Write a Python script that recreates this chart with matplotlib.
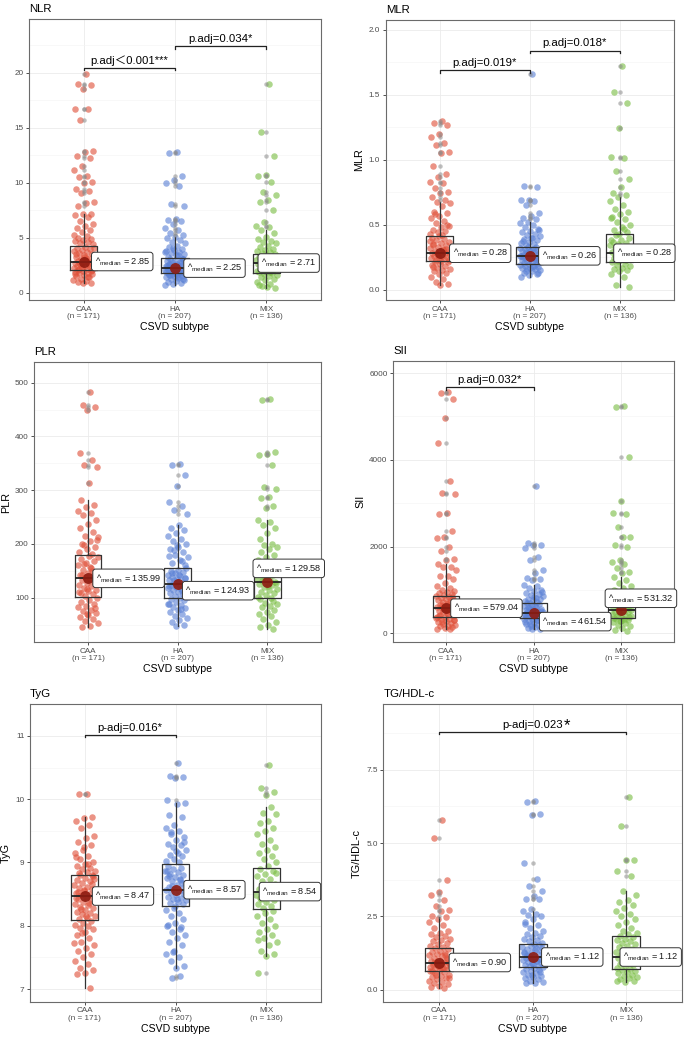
import matplotlib
matplotlib.use('Agg')
import matplotlib.pyplot as plt
import numpy as np

plt.rcParams['font.family'] = ['Liberation Sans', 'Noto Sans CJK SC', 'DejaVu Sans']
plt.rcParams['mathtext.fontset'] = 'custom'
plt.rcParams['mathtext.rm'] = 'Liberation Sans'
plt.rcParams['mathtext.it'] = 'Liberation Sans:italic'
plt.rcParams['mathtext.bf'] = 'Liberation Sans:bold'

groups = ['CAA', 'HA', 'MIX']
group_n = [171, 207, 136]
xlabel = 'CSVD subtype'

# ---- NLR ----
nlr_caa = [19.9, 19.0, 18.9, 18.5, 16.7, 16.7, 15.7, 12.9, 12.8, 12.4, 12.3, 11.5, 11.2, 10.6, 10.5, 10.1, 9.95, 9.4, 9.3, 9.05, 8.3, 8.2, 7.9,
           7.2, 7.15, 7.1, 6.9, 6.5, 6.3, 6.1, 5.9, 5.7, 5.5, 5.3, 5.2, 5.0, 4.9, 4.8, 4.7, 4.6, 4.5, 4.4,
           4.2, 4.1, 4.0, 3.9, 3.8, 3.7, 3.6, 3.5, 3.4, 3.3, 3.2, 3.1, 3.0, 2.95, 2.9, 2.85, 2.8, 2.75, 2.7, 2.6, 2.5, 2.45,
           2.4, 2.35, 2.3, 2.25, 2.2, 2.15, 2.1, 3.25, 3.55, 2.65, 2.55, 4.05, 3.15,
           2.05, 2.0, 1.95, 1.9, 1.85, 1.8, 1.7, 1.6, 1.5, 1.4, 1.3, 1.2, 1.1, 1.0, 0.9, 0.88, 1.75, 1.45]
nlr_ha = [12.8, 12.7, 10.6, 10.3, 10.0, 9.7, 8.1, 7.9, 6.7, 6.6, 6.5, 6.3, 5.9, 5.7, 5.4, 5.3,
          5.1, 5.0, 4.8, 4.6, 4.5, 4.3, 4.2, 4.0, 3.9, 3.8, 3.7, 3.6, 3.5, 3.4, 3.3, 3.2, 4.1, 3.75, 3.45,
          3.1, 3.05, 3.0, 2.9, 2.85, 2.8, 2.7, 2.65, 2.6, 2.55, 2.5, 2.45, 2.4, 2.35, 2.3, 2.27, 2.25, 2.2, 2.15, 2.1,
          2.05, 2.0, 1.98, 1.95, 1.92, 1.9, 1.87, 1.85, 1.82, 1.8, 2.75, 2.38, 2.12, 1.96, 2.62, 3.08, 2.22, 2.48,
          1.78, 1.75, 1.7, 1.65, 1.6, 1.55, 1.5, 1.45, 1.4, 1.3, 1.2, 1.1, 1.0, 0.9, 0.8, 0.75, 1.35, 1.62, 1.25]
nlr_mix = [19.0, 14.6, 12.4, 10.7, 10.6, 10.1, 9.2, 8.9, 8.4, 8.3, 7.5, 6.4, 6.1, 6.0,
           5.7, 5.4, 5.1, 4.9, 4.7, 4.6, 4.5, 4.3, 4.2, 4.0, 3.9, 3.8, 3.7, 3.6,
           3.5, 3.4, 3.3, 3.2, 3.1, 3.0, 2.9, 2.8, 2.75, 2.71, 2.65, 2.6, 2.5, 2.4, 2.3, 2.2, 2.1, 2.0, 1.95, 1.9, 3.25, 2.85, 2.35, 1.88,
           1.8, 1.7, 1.6, 1.5, 1.4, 1.3, 1.2, 1.0, 0.8, 0.6, 0.45, 0.5, 0.7]
nlr_q1 = [2.09, 1.79, 1.85]
nlr_med = [2.85, 2.25, 2.71]
nlr_q3 = [4.30, 3.15, 3.50]
nlr_lo = [0.88, 0.75, 0.45]
nlr_hi = [7.2, 5.1, 5.7]
nlr_ticks = [0, 5, 10, 15, 20]
nlr_tests = [(1, 2, 20.45, 'p.adj＜0.001***'), (2, 3, 22.43, 'p.adj=0.034*')]

# ---- MLR ----
mlr_caa = [1.30, 1.28, 1.265, 1.20, 1.175, 1.125, 1.11, 1.06, 1.05, 0.95, 0.89, 0.87, 0.83, 0.82, 0.78, 0.75, 0.74, 0.715, 0.69,
           0.676, 0.67, 0.64, 0.60, 0.59, 0.57, 0.55, 0.53, 0.51, 0.49, 0.48, 0.46, 0.45, 0.44, 0.43, 0.42, 0.58, 0.50,
           0.41, 0.40, 0.39, 0.38, 0.37, 0.36, 0.35, 0.34, 0.33, 0.32, 0.31, 0.30, 0.295, 0.29, 0.285, 0.28, 0.275, 0.27,
           0.26, 0.255, 0.25, 0.245, 0.24, 0.235, 0.23, 0.225, 0.22, 0.345, 0.315, 0.265, 0.375, 0.305,
           0.215, 0.21, 0.20, 0.19, 0.18, 0.17, 0.16, 0.15, 0.14, 0.13, 0.12, 0.10, 0.08, 0.06, 0.04, 0.036, 0.175]
mlr_ha = [1.66, 0.80, 0.79, 0.69, 0.69, 0.68, 0.65, 0.59, 0.565, 0.55, 0.54,
          0.52, 0.51, 0.50, 0.48, 0.47, 0.45, 0.44, 0.43, 0.42, 0.41, 0.40, 0.39, 0.38, 0.37, 0.36, 0.35, 0.34, 0.46, 0.395, 0.375,
          0.33, 0.325, 0.32, 0.315, 0.31, 0.305, 0.30, 0.295, 0.29, 0.285, 0.28, 0.275, 0.27, 0.265, 0.26, 0.255, 0.25, 0.245,
          0.24, 0.235, 0.23, 0.225, 0.22, 0.215, 0.21, 0.205, 0.20, 0.197, 0.262, 0.242, 0.288, 0.218, 0.302, 0.252, 0.232, 0.272,
          0.19, 0.185, 0.18, 0.175, 0.17, 0.165, 0.16, 0.155, 0.15, 0.14, 0.13, 0.12, 0.11, 0.10, 0.178, 0.145, 0.125]
mlr_mix = [1.72, 1.52, 1.435, 1.24, 1.02, 1.01, 0.91, 0.85, 0.79, 0.74, 0.73,
           0.71, 0.68, 0.65, 0.62, 0.60, 0.58, 0.56, 0.54, 0.52, 0.50, 0.48, 0.46, 0.44, 0.43, 0.55, 0.47,
           0.42, 0.40, 0.38, 0.37, 0.36, 0.35, 0.34, 0.33, 0.32, 0.31, 0.30, 0.29, 0.28, 0.27, 0.26, 0.25, 0.24, 0.23, 0.22,
           0.385, 0.315, 0.265, 0.245, 0.225,
           0.21, 0.20, 0.19, 0.18, 0.17, 0.16, 0.15, 0.14, 0.12, 0.10, 0.035, 0.02]
mlr_q1 = [0.22, 0.195, 0.215]
mlr_med = [0.28, 0.26, 0.28]
mlr_q3 = [0.415, 0.33, 0.425]
mlr_lo = [0.036, 0.10, 0.02]
mlr_hi = [0.676, 0.52, 0.71]
mlr_ticks = [0.0, 0.5, 1.0, 1.5, 2.0]
mlr_tests = [(1, 2, 1.69, 'p.adj=0.019*'), (2, 3, 1.84, 'p.adj=0.018*')]

# ---- PLR ----
plr_caa = [482, 458, 455, 449, 370, 357, 347, 344, 313,
           281, 272, 269, 262, 258, 254, 245, 238, 230, 222, 215, 212, 205, 200, 195, 190, 185, 182, 198, 208,
           178, 172, 168, 165, 160, 155, 152, 148, 145, 142, 140, 138, 136, 134, 132, 130, 127, 124, 121, 118, 115, 112, 109,
           106, 103, 175, 158, 143, 128, 117, 111, 150, 162,
           100, 96, 92, 88, 85, 82, 78, 75, 72, 68, 64, 60, 56, 52, 48, 46, 80, 70]
plr_ha = [348, 346, 328, 308, 278, 271, 264, 256,
          235, 230, 225, 220, 215, 210, 205, 200, 195, 190, 185, 180, 175, 170, 165, 160, 198, 178, 168, 188,
          155, 152, 150, 148, 145, 142, 140, 138, 136, 134, 132, 130, 128, 126, 125, 124, 122, 120, 118, 116, 114, 112,
          110, 108, 106, 104, 102, 100, 146, 137, 129, 121, 113, 133, 117, 143,
          98, 95, 92, 89, 86, 83, 80, 77, 74, 70, 66, 62, 58, 54, 50, 47, 88, 79]
plr_mix = [469, 467, 371, 368, 365, 347, 306, 303, 288, 285, 270, 266,
           245, 240, 235, 230, 220, 210, 200, 198, 195, 190, 185, 180, 175, 170, 165,
           158, 152, 148, 145, 142, 139, 136, 133, 131, 130, 128, 126, 123, 120, 117, 114, 111, 108, 105, 102, 100, 135, 127, 121,
           97, 94, 91, 88, 85, 82, 78, 74, 70, 65, 60, 55, 50, 45, 41]
plr_q1 = [101.9, 100.0, 99.0]
plr_med = [135.99, 124.93, 129.58]
plr_q3 = [179.4, 155.8, 160.0]
plr_lo = [46, 47, 41]
plr_hi = [281, 235, 245]
plr_ticks = [100, 200, 300, 400, 500]
plr_tests = []

# ---- SII ----
sii_caa = [5570, 5540, 5393, 4970, 4394, 3518, 3227, 3200, 2766, 2750, 2366, 2228, 2200, 1997, 1905, 1705, 1690,
           1600, 1536, 1520, 1450, 1330, 1320, 1250, 1150, 1100, 1050, 1000, 980, 950, 920, 900, 880,
           860, 840, 820, 800, 780, 760, 740, 720, 700, 680, 660, 640, 620, 600, 585, 575, 560, 540, 520, 500, 480,
           460, 440, 420, 400, 380, 370, 710, 650, 530, 470, 410, 830, 590,
           360, 340, 320, 300, 280, 260, 240, 220, 200, 180, 160, 140, 120, 100, 92, 250, 310]
sii_ha = [3396, 2090, 2036, 2030, 1959, 1767, 1690, 1460, 1398, 1268, 1245, 1230,
          1114, 1080, 1040, 1000, 970, 940, 910, 880, 850, 820, 800, 780, 760, 740, 720, 700, 950, 830,
          690, 670, 650, 630, 610, 590, 570, 550, 530, 510, 495, 480, 470, 462, 455, 445, 435, 425, 415, 405, 395, 385,
          375, 365, 355, 348, 600, 520, 470, 430, 390, 560, 410, 640, 500, 450,
          340, 320, 300, 280, 260, 240, 220, 200, 180, 160, 140, 120, 100, 92, 250, 310, 210]
sii_mix = [5240, 5220, 4072, 3058, 2766, 2750, 2443, 2228, 2220, 2036, 2000, 1690, 1652, 1600, 1498, 1421, 1400,
           1306, 1229, 1168, 1100, 1050, 980, 950, 900, 870, 830, 800, 780, 760, 1000,
           740, 720, 700, 680, 650, 620, 600, 580, 560, 540, 531, 520, 500, 480, 460, 440, 420, 400, 380, 360, 350, 610, 470, 390,
           340, 320, 300, 280, 260, 240, 200, 160, 120, 80, 60, 290]
sii_q1 = [369, 346, 346]
sii_med = [579.04, 461.54, 531.32]
sii_q3 = [868, 691, 750]
sii_lo = [92, 92, 60]
sii_hi = [1600, 1114, 1306]
sii_ticks = [0, 2000, 4000, 6000]
sii_tests = [(1, 2, 5670, 'p.adj=0.032*')]

# ---- TyG ----
tyg_caa = [10.09, 10.08,
           9.72, 9.70, 9.65, 9.59, 9.55, 9.42, 9.39, 9.32, 9.28, 9.2, 9.15, 9.1, 9.05, 9.0, 8.97, 8.95, 8.92, 8.9, 8.87, 8.85,
           8.83, 8.81, 9.25, 9.08, 8.98,
           8.8, 8.78, 8.75, 8.72, 8.7, 8.68, 8.65, 8.62, 8.6, 8.58, 8.55, 8.52, 8.5, 8.48, 8.47, 8.45, 8.43, 8.4, 8.38, 8.35,
           8.33, 8.3, 8.28, 8.25, 8.22, 8.2, 8.18, 8.15, 8.12, 8.1, 8.66, 8.56, 8.44, 8.36, 8.26, 8.74, 8.16, 8.53,
           8.07, 8.05, 8.02, 8.0, 7.97, 7.95, 7.9, 7.85, 7.8, 7.75, 7.7, 7.65, 7.6, 7.55, 7.5, 7.45, 7.4, 7.33, 7.3, 7.25,
           7.23, 7.02, 7.88, 7.72]
tyg_ha = [10.58, 10.36, 10.35, 10.33, 9.99, 7.2, 7.18,
          9.94, 9.92, 9.75, 9.72, 9.6, 9.55, 9.5, 9.45, 9.4, 9.35, 9.3, 9.28, 9.25, 9.2, 9.15, 9.12, 9.1, 9.05, 9.02, 9.0,
          9.48, 9.33, 9.18,
          8.95, 8.92, 8.9, 8.87, 8.85, 8.82, 8.8, 8.77, 8.75, 8.72, 8.7, 8.67, 8.65, 8.62, 8.6, 8.58, 8.57, 8.55, 8.52, 8.5,
          8.48, 8.46, 8.44, 8.42, 8.4, 8.38, 8.36, 8.34, 8.32, 8.86, 8.74, 8.63, 8.53, 8.43, 8.78, 8.68,
          8.28, 8.25, 8.2, 8.15, 8.1, 8.05, 8.0, 7.95, 7.9, 7.85, 7.8, 7.75, 7.7, 7.6, 7.55, 7.5, 7.45, 7.36, 7.33, 8.02,
          7.98, 7.58]
tyg_mix = [10.54, 10.18, 10.12, 10.07, 7.25,
           9.88, 9.78, 9.76, 9.65, 9.63, 9.55, 9.5, 9.45, 9.35, 9.3, 9.25, 9.2, 9.15, 9.1, 9.05, 9.0, 8.95,
           8.9, 8.86, 8.82, 8.78, 8.74, 8.7, 8.66, 8.62, 8.58, 8.55, 8.52, 8.49, 8.46, 8.43, 8.4, 8.37, 8.34, 8.31, 8.28,
           8.84, 8.6, 8.44,
           8.24, 8.2, 8.15, 8.1, 8.05, 8.0, 7.95, 7.9, 7.85, 7.8, 7.75, 7.7, 7.6, 7.55, 7.52, 7.78]
tyg_q1 = [8.09, 8.31, 8.26]
tyg_med = [8.47, 8.57, 8.54]
tyg_q3 = [8.80, 8.97, 8.92]
tyg_lo = [7.02, 7.33, 7.52]
tyg_hi = [9.72, 9.94, 9.88]
tyg_ticks = [7, 8, 9, 10, 11]
tyg_tests = [(1, 2, 11.02, 'p-adj=0.016*')]

# ---- TG/HDL-c ----
tgh_caa = [5.79, 5.16, 3.74, 3.32, 3.23, 3.06, 2.84, 2.72, 2.67, 2.5,
           2.47, 2.4, 2.3, 2.2, 2.1, 2.0, 1.95, 1.9, 1.85, 1.8, 1.75, 1.7, 1.65, 1.6, 1.55, 1.5, 1.47,
           1.42, 1.38, 1.34, 1.3, 1.26, 1.22, 1.18, 1.14, 1.1, 1.06, 1.02, 0.98, 0.95, 0.92, 0.9, 0.88, 0.85, 0.82, 0.8,
           0.78, 0.75, 0.73, 0.7, 0.68, 0.66, 1.2, 1.0, 0.87, 0.76, 0.93, 1.08, 0.83,
           0.64, 0.6, 0.56, 0.52, 0.48, 0.44, 0.4, 0.36, 0.32, 0.28, 0.24, 0.2, 0.15, 0.1, 0.06, 0.5, 0.42]
tgh_ha = [6.43, 6.41, 5.98, 5.97, 4.33, 3.78, 3.54, 3.38, 3.18, 3.10, 3.09, 2.75,
          2.67, 2.6, 2.55, 2.5, 2.4, 2.3, 2.2, 2.1, 2.0, 1.95, 1.9, 1.85, 1.8, 1.75, 1.7, 1.65, 1.6, 1.57, 2.25,
          1.54, 1.5, 1.46, 1.42, 1.38, 1.34, 1.3, 1.26, 1.22, 1.18, 1.15, 1.12, 1.1, 1.07, 1.04, 1.01, 0.98, 0.95, 0.92,
          0.89, 0.86, 0.83, 0.8, 0.78, 1.36, 1.2, 1.05, 0.9, 1.28, 0.97, 1.13, 1.44,
          0.75, 0.72, 0.68, 0.64, 0.6, 0.56, 0.52, 0.48, 0.44, 0.4, 0.36, 0.32, 0.28, 0.25, 0.23, 0.62, 0.5]
tgh_mix = [6.55, 5.59, 4.43, 4.43, 4.06, 3.88,
           3.38, 3.23, 3.06, 3.0, 2.9, 2.8, 2.7, 2.6, 2.5, 2.4, 2.3, 2.2, 2.1, 2.0, 1.95, 1.9, 1.85,
           1.8, 1.75, 1.7, 1.65, 1.6, 1.55, 1.5, 1.45, 1.4, 1.35, 1.3, 1.25, 1.2, 1.15, 1.12, 1.08, 1.04, 1.0, 0.96, 0.92,
           0.88, 0.84, 0.8, 0.76, 0.72,
           0.68, 0.64, 0.6, 0.56, 0.52, 0.48, 0.44, 0.4, 0.36, 0.32, 0.28, 0.3]
tgh_q1 = [0.65, 0.77, 0.70]
tgh_med = [0.90, 1.12, 1.12]
tgh_q3 = [1.44, 1.55, 1.82]
tgh_lo = [0.06, 0.23, 0.28]
tgh_hi = [2.47, 2.67, 3.38]
tgh_ticks = [0.0, 2.5, 5.0, 7.5]
tgh_tests = [(1, 3, 8.79, 'p-adj=0.023')]

# styling
colors = ['#E0513A', '#5C82D6', '#7BBE45']
W, H = 685, 1040
fig = plt.figure(figsize=(W / 100, H / 100), dpi=100)


def px_rect(l, t, r, b):
    return [l / W, 1 - b / H, (r - l) / W, (b - t) / H]


def draw_panel(rect, title, ylabel, values, q1, med, q3, lo, hi, ylim, ticks, minor, fmt,
               tests, label_dx, label_dy):
    ax = fig.add_axes(px_rect(*rect))
    ax_h = rect[3] - rect[1]
    ax.set_xlim(0.4, 3.6)
    ax.set_ylim(*ylim)

    # jittered points
    for i, vals in enumerate(values):
        vals = np.array(vals, dtype=float)
        k = np.arange(len(vals))
        off = (((k + 1) * 0.6180339887) % 1 - 0.5) * 0.23
        ax.scatter(i + 1 + off, vals, s=22, color=colors[i], alpha=0.62, linewidths=0, zorder=2)

    stats = []
    for i in range(3):
        fl = [v for v in values[i] if v > hi[i] or v < lo[i]]
        stats.append(dict(med=med[i], q1=q1[i], q3=q3[i], whislo=lo[i], whishi=hi[i], fliers=fl))
    ax.bxp(stats, positions=[1, 2, 3], widths=0.3, showcaps=False,
           boxprops=dict(color='#333333', lw=0.9),
           whiskerprops=dict(color='#333333', lw=0.9),
           medianprops=dict(color='#222222', lw=1.3),
           flierprops=dict(marker='o', markersize=3.2, markerfacecolor='#8a8a8a',
                           markeredgecolor='none', alpha=0.55),
           zorder=3)

    # centrality points + labels
    for i in range(3):
        ax.scatter([i + 1], [med[i]], s=62, color='#8E1B10', alpha=0.9, linewidths=0, zorder=4)
        txt = '^${}_{\\mathrm{median}}$ = ' + f'{med[i]:.2f}'
        ax.annotate(txt, xy=(i + 1, med[i]), xytext=((label_dx[i] + 2.8) * 0.72, label_dy[i] * 0.72),
                    textcoords='offset points', ha='left', va='center', fontsize=6.6, color='#1a1a1a',
                    bbox=dict(boxstyle='round,pad=0.33,rounding_size=0.3', fc='white', ec='#333333', lw=0.7),
                    zorder=6)

    # significance brackets
    tip = (ylim[1] - ylim[0]) * 2.5 / ax_h
    for x1, x2, y, label in tests:
        ax.plot([x1, x1, x2, x2], [y - tip, y, y, y - tip], color='#222222', lw=0.9, zorder=5)
        ax.annotate(label, xy=((x1 + x2) / 2, y), xytext=(0, 1.5), textcoords='offset points',
                    ha='center', va='bottom', fontsize=8.2, color='black')

    ax.set_yticks(ticks)
    ax.set_yticklabels([fmt.format(t) for t in ticks])
    ax.set_yticks(minor, minor=True)
    ax.set_xticks([1, 2, 3])
    ax.set_xticklabels([f'{g}\n(n = {n})' for g, n in zip(groups, group_n)], linespacing=1.05)
    ax.tick_params(axis='both', which='major', labelsize=5.9, labelcolor='#4D4D4D', color='#333333',
                   length=2.5, width=0.6, pad=1.5)
    ax.tick_params(axis='y', which='minor', length=0)
    ax.grid(True, which='major', color='#EBEBEB', lw=0.6, zorder=0)
    ax.grid(True, which='minor', axis='y', color='#F4F4F4', lw=0.4, zorder=0)
    ax.set_axisbelow(True)
    for s in ax.spines.values():
        s.set_color('#6b6b6b')
        s.set_linewidth(0.8)
    ax.set_xlabel(xlabel, fontsize=7.6, labelpad=1.5)
    if ylabel:
        ax.set_ylabel(ylabel, fontsize=7.8, labelpad=3)
    ax.set_title(title, loc='left', fontsize=8.2, pad=5)
    return ax


draw_panel((29, 19, 321, 300), 'NLR', '', [nlr_caa, nlr_ha, nlr_mix], nlr_q1, nlr_med, nlr_q3,
           nlr_lo, nlr_hi, (-0.65, 24.9), nlr_ticks, [2.5, 7.5, 12.5, 17.5, 22.5], '{:g}',
           nlr_tests, [8, 9, -8], [0, 0, 0])
draw_panel((385.7, 20, 674, 300), 'MLR', 'MLR', [mlr_caa, mlr_ha, mlr_mix], mlr_q1, mlr_med, mlr_q3,
           mlr_lo, mlr_hi, (-0.08, 2.075), mlr_ticks, [0.25, 0.75, 1.25, 1.75], '{:.1f}',
           mlr_tests, [10, 9, -6], [0, 0, 0])
draw_panel((34.3, 361.7, 321, 642.3), 'PLR', 'PLR', [plr_caa, plr_ha, plr_mix], plr_q1, plr_med, plr_q3,
           plr_lo, plr_hi, (17, 539), plr_ticks, [50, 150, 250, 350, 450], '{:g}',
           plr_tests, [5, 5, -14], [0, -6.4, 13.4])
draw_panel((393.3, 361, 674, 642.3), 'SII', 'SII', [sii_caa, sii_ha, sii_mix], sii_q1, sii_med, sii_q3,
           sii_lo, sii_hi, (-207, 6277), sii_ticks, [1000, 3000, 5000], '{:g}',
           sii_tests, [5, 6, -16], [0, -8.3, 12])
draw_panel((30, 704.3, 321, 1001.7), 'TyG', 'TyG', [tyg_caa, tyg_ha, tyg_mix], tyg_q1, tyg_med, tyg_q3,
           tyg_lo, tyg_hi, (6.8, 11.5), tyg_ticks, [7.5, 8.5, 9.5, 10.5], '{:g}',
           tyg_tests, [8, 8.6, -7], [0, 0, 0])
ax6 = draw_panel((383.3, 704.3, 682.3, 1001.7), 'TG/HDL-c', 'TG/HDL-c', [tgh_caa, tgh_ha, tgh_mix],
                 tgh_q1, tgh_med, tgh_q3, tgh_lo, tgh_hi, (-0.4, 9.72), tgh_ticks, [1.25, 3.75, 6.25, 8.75],
                 '{:.1f}', tgh_tests, [10, 9, -6], [1, 0, 0])

# the large star after the last p-value
fig.canvas.draw()
renderer = fig.canvas.get_renderer()
ptxt = [t for t in ax6.texts if t.get_text().startswith('p-adj')][0]
bb = ptxt.get_window_extent(renderer)
fig.text(bb.x1 / W + 0.001, bb.y1 / H - 0.0135, '*', fontsize=12, ha='left', va='bottom')

fig.savefig('out.png', dpi=100)
